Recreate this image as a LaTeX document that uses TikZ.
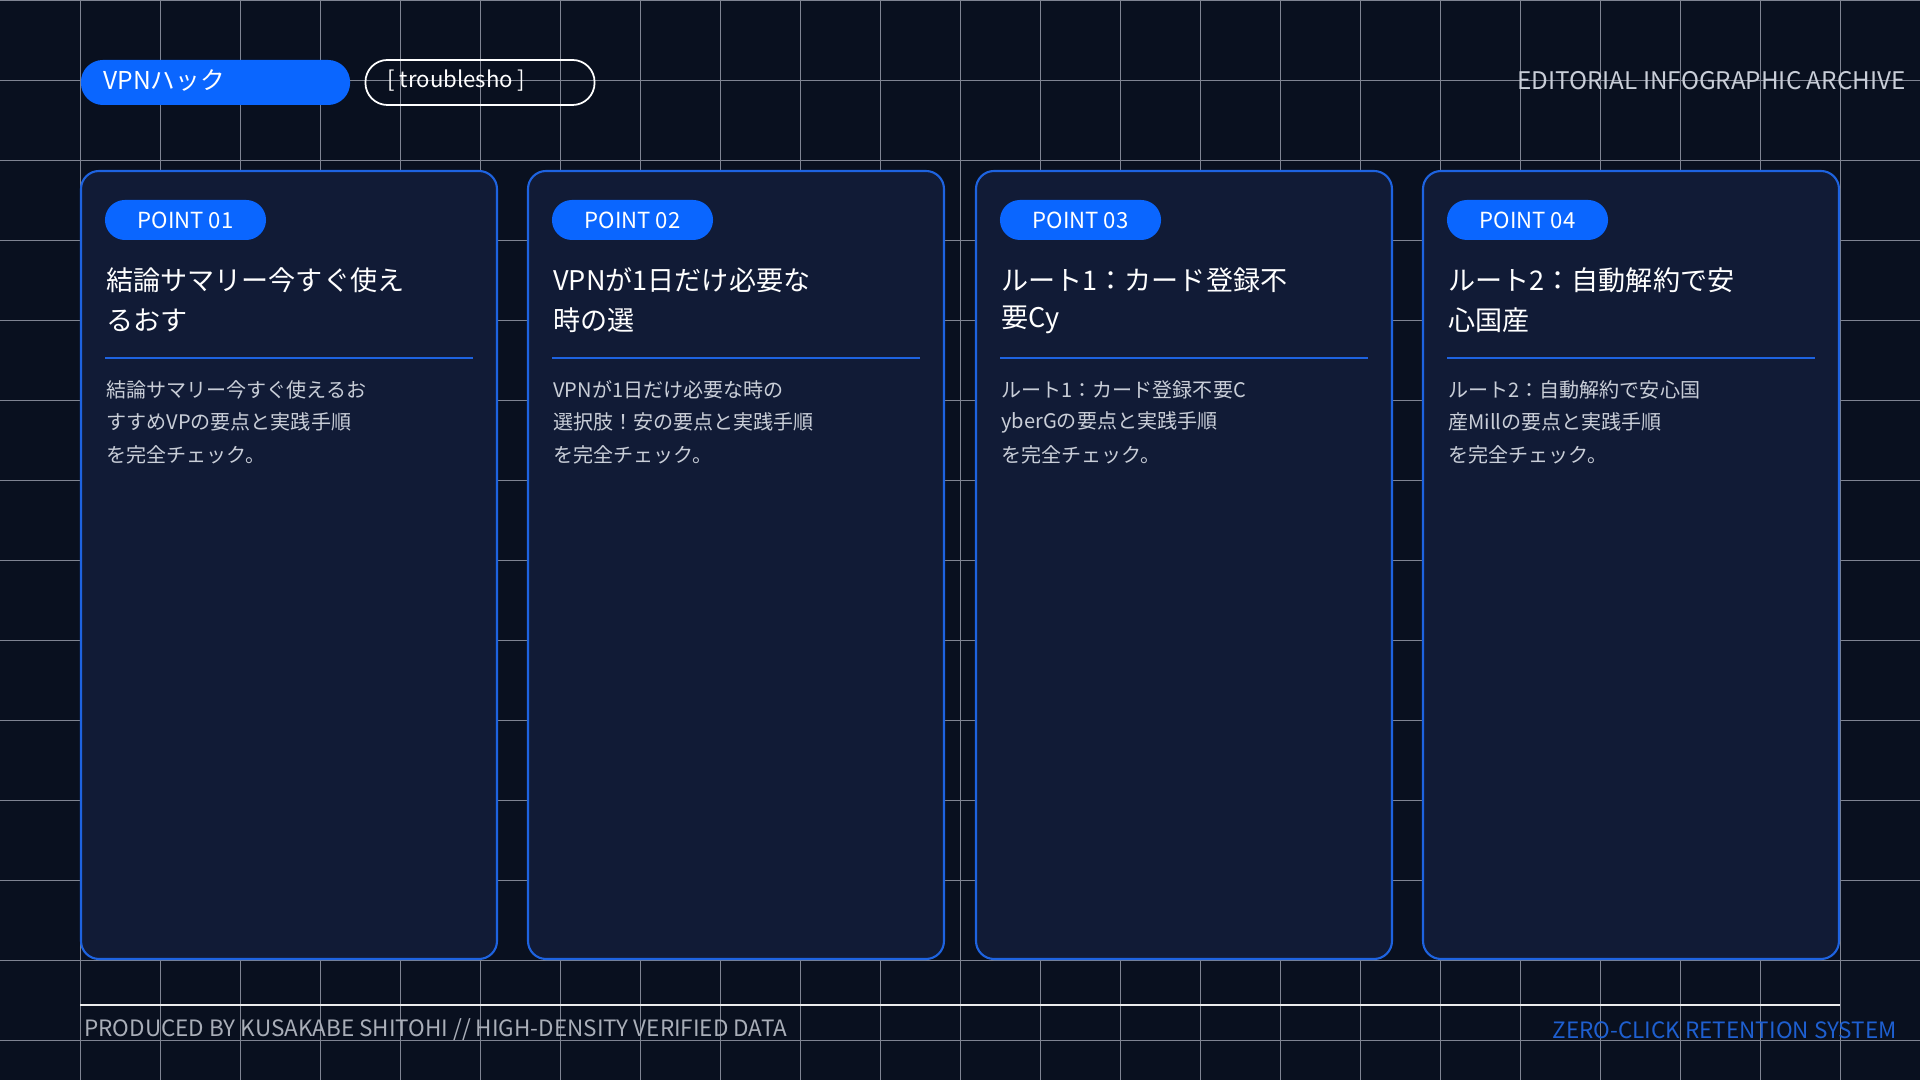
\documentclass[tikz,border=0pt]{standalone}
\usepackage{fontspec}
\setmainfont{Noto Sans CJK JP}[Scale=1]
\definecolor{bg}{HTML}{09101F}
\definecolor{cardbg}{HTML}{111B36}
\definecolor{cardline}{HTML}{1E63E0}
\definecolor{pill}{HTML}{0A66FF}
\definecolor{gridc}{HTML}{7F8492}
\definecolor{bodyc}{HTML}{C9CED8}
\definecolor{foot}{HTML}{A9AEB8}
\definecolor{footblue}{HTML}{1E5FD0}
\begin{document}
\begin{tikzpicture}[x=0.01cm,y=-0.01cm,
  card/.style={draw=cardline,line width=0.6pt,fill=cardbg,rounded corners=0.18cm},
  ptpill/.style={fill=pill,rounded corners=0.2cm,minimum width=1.61cm,minimum height=0.4cm,inner sep=0,text=white,font=\fontsize{6.3pt}{7pt}\selectfont},
  ttl/.style={text=white,anchor=west,font=\fontsize{7.7pt}{9pt}\selectfont},
  body/.style={text=bodyc,anchor=west,font=\fontsize{5.7pt}{7pt}\selectfont},
  divl/.style={draw=cardline,line width=0.6pt}]
\fill[bg] (0,0) rectangle (1920,1080);
\useasboundingbox (0,0) rectangle (1920,1080);
\foreach \x in {80,160,...,1840} \draw[gridc,line width=0.22pt] (\x,0) -- (\x,1080);
\foreach \y in {0,80,...,1040} \draw[gridc,line width=0.22pt] (0,\y) -- (1920,\y);
\node[fill=pill,rounded corners=0.22cm,minimum width=2.69cm,minimum height=0.45cm,inner sep=0] (tag) at (215.5,82.5) {};
\node[text=white,anchor=west,font=\fontsize{7pt}{8pt}\selectfont] (tagt) at (91,81) {VPNハック};
\node[draw=white,line width=0.5pt,rounded corners=0.22cm,minimum width=2.29cm,minimum height=0.45cm,inner sep=0] (tr) at (480,82.5) {};
\node[text=white,anchor=west,font=\fontsize{6.3pt}{7pt}\selectfont] (trt) at (375,81) {[ troublesho ]};
\node[text=bodyc,anchor=east,font=\fontsize{6.9pt}{7pt}\selectfont] (ed) at (1918,81) {EDITORIAL INFOGRAPHIC ARCHIVE};
\foreach \i/\x/\n/\ta/\tb/\ba/\bb in {
 1/81/01/結論サマリー今すぐ使え/るおす/結論サマリー今すぐ使えるお/すすめVPの要点と実践手順,
 2/528/02/VPNが1日だけ必要な/時の選/VPNが1日だけ必要な時の/選択肢！安の要点と実践手順,
 3/976/03/ルート1：カード登録不/要Cy/ルート1：カード登録不要C/yberGの要点と実践手順,
 4/1423/04/ルート2：自動解約で安/心国産/ルート2：自動解約で安心国/産Millの要点と実践手順}{
 \draw[card] (\x,171) rectangle ++(416,788);
 \node[ptpill] (p\i) at (\x+24+80.5,220) {POINT \n};
 \node[ttl] (t\i) at (\x+13,280) {\ta};
 \node[ttl] (u\i) at (\x+13,320) {\tb};
 \draw[divl] (\x+24,358) -- (\x+392,358);
 \node[body] (b\i) at (\x+13,390) {\ba};
 \node[body] (c\i) at (\x+13,422) {\bb};
 \node[body] (d\i) at (\x+13,455) {を完全チェック。};
}
\draw[white!85!gray,line width=0.6pt] (80,1005) -- (1840,1005);
\node[text=foot,anchor=west,font=\fontsize{6.4pt}{7pt}\selectfont] (fl) at (72,1030) {PRODUCED BY KUSAKABE SHITOHI // HIGH-DENSITY VERIFIED DATA};
\node[text=footblue,anchor=east,font=\fontsize{6.4pt}{7pt}\selectfont] (fr) at (1909,1030) {ZERO-CLICK RETENTION SYSTEM};
\end{tikzpicture}
\end{document}
